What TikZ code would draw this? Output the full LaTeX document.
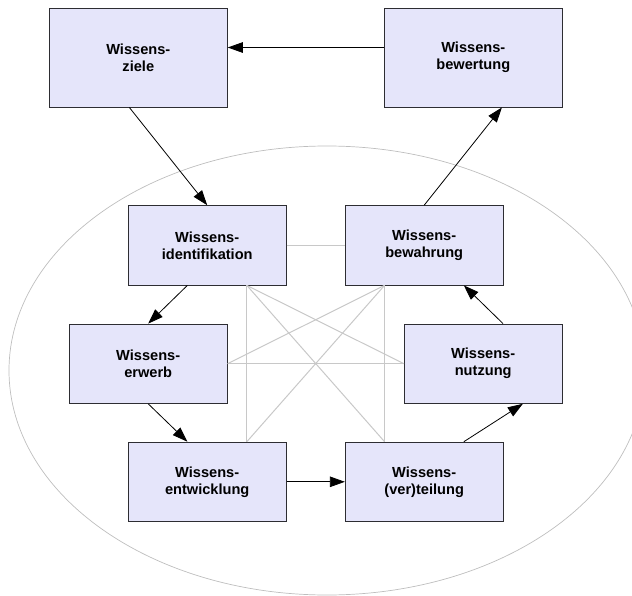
\documentclass[tikz,border=0pt]{standalone}
\usepackage{fontspec}
\setmainfont{Liberation Sans}
\usetikzlibrary{calc,arrows.meta}

\definecolor{boxfill}{RGB}{229,229,250}
\definecolor{boxline}{RGB}{45,45,50}
\definecolor{linkgrey}{RGB}{200,200,200}
\definecolor{ringgrey}{RGB}{190,190,190}

\tikzset{
  kbox/.style={draw=boxline, line width=0.9pt, fill=boxfill, align=center,
    inner sep=0pt, text=black,
    font=\bfseries\fontsize{14.6}{17}\selectfont},
  outerbox/.style={kbox, minimum width=178pt, minimum height=99pt},
  innerbox/.style={kbox, minimum width=157.7pt, minimum height=79.3pt},
  flow/.style={draw=black, line width=0.8pt, -{Triangle[length=15pt,width=10.5pt]}},
  link/.style={draw=linkgrey, line width=1pt},
  ring/.style={draw=ringgrey, line width=0.7pt}
}

\begin{document}
\begin{tikzpicture}[x=1pt,y=-1pt]
  \useasboundingbox (0,0) rectangle (632,596);
  \clip (0,0) rectangle (632,596);

  % surrounding ring of the core processes
  \draw[ring] (327,370.5) ellipse [x radius=318, y radius=224.5];

  % building blocks
  \node[outerbox] (ziele) at (138.3,57.5) {Wissens-\\ziele};
  \node[outerbox] (bewert) at (473.3,57.5) {Wissens-\\bewertung};
  \node[innerbox] (ident) at (207.2,245.3) {Wissens-\\identifikation};
  \node[innerbox] (bewahr) at (424.2,245.3) {Wissens-\\bewahrung};
  \node[innerbox] (erwerb) at (148.2,363.7) {Wissens-\\erwerb};
  \node[innerbox] (nutz) at (483.2,363.7) {Wissens-\\nutzung};
  \node[innerbox] (entw) at (207.2,481.8) {Wissens-\\entwicklung};
  \node[innerbox] (verteil) at (424.2,481.8) {Wissens-\\(ver)teilung};

  % attachment points on the box edges
  \coordinate (identB) at ($(ident.south west)!0.75!(ident.south east)$);
  \coordinate (bewahrB) at ($(bewahr.south west)!0.25!(bewahr.south east)$);
  \coordinate (entwT) at ($(entw.north west)!0.75!(entw.north east)$);
  \coordinate (verteilT) at ($(verteil.north west)!0.25!(verteil.north east)$);

  % grey cross links between the core processes
  \draw[link] (ident.east) -- (bewahr.west);
  \draw[link] (erwerb.east) -- (nutz.west);
  \draw[link] (identB) -- (entwT);
  \draw[link] (bewahrB) -- (verteilT);
  \draw[link] (identB) -- (verteilT);
  \draw[link] (bewahrB) -- (entwT);
  \draw[link] (identB) -- (nutz.west);
  \draw[link] (bewahrB) -- (erwerb.east);

  % the management cycle
  \draw[flow] ($(bewert.north west)!0.4!(bewert.south west)$)
           -- ($(ziele.north east)!0.4!(ziele.south east)$);
  \draw[flow] ($(ziele.south west)!0.45!(ziele.south east)$) -- (ident.north);
  \draw[flow] ($(ident.south west)!0.375!(ident.south east)$) -- (erwerb.north);
  \draw[flow] (erwerb.south) -- ($(entw.north west)!0.375!(entw.north east)$);
  \draw[flow] (entw.east) -- (verteil.west);
  \draw[flow] ($(verteil.north west)!0.75!(verteil.north east)$)
           -- ($(nutz.south west)!0.75!(nutz.south east)$);
  \draw[flow] ($(nutz.north west)!0.625!(nutz.north east)$)
           -- ($(bewahr.south west)!0.75!(bewahr.south east)$);
  \draw[flow] (bewahr.north) -- ($(bewert.south west)!0.66!(bewert.south east)$);
\end{tikzpicture}
\end{document}
